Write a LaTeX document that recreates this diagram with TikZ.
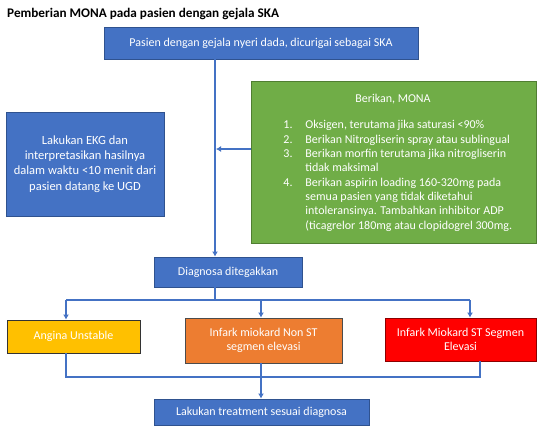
\documentclass[tikz,border=0pt]{standalone}
\usepackage{fontspec}
\setmainfont{Carlito}
\usetikzlibrary{arrows.meta}

\definecolor{boxblue}{HTML}{4472C4}
\definecolor{boxblueline}{HTML}{2F528F}
\definecolor{boxgreen}{HTML}{70AD47}
\definecolor{boxgreenline}{HTML}{507E32}
\definecolor{boxorange}{HTML}{ED7D31}
\definecolor{boxyellow}{HTML}{FFC000}
\definecolor{boxred}{HTML}{FF0000}

\begin{document}
\begin{tikzpicture}[
        x=1pt, y=-1pt,
        box/.style={rectangle, draw=boxblueline, fill=boxblue, line width=0.9pt, text=white, align=center, inner sep=0pt, font=\fontsize{12}{14.6}\selectfont},
        link/.style={draw=boxblue, line width=1.3pt},
        arrow/.style={link, -{Latex[length=5pt, width=6pt]}},
    ]
        \useasboundingbox (0,0) rectangle (543,432);
        \node[anchor=west, inner sep=0pt, font=\bfseries\fontsize{13.2}{16}\selectfont] (title) at (7,14) {Pemberian MONA pada pasien dengan gejala SKA};

        \node[box, minimum width=314pt, minimum height=32pt] (pasien) at (261,43) {Pasien dengan gejala nyeri dada, dicurigai sebagai SKA};
        \node[box, minimum width=158pt, minimum height=104pt, font=\fontsize{12.5}{15.3}\selectfont] (ekg) at (85,164) {Lakukan EKG dan\\interpretasikan hasilnya\\dalam waktu <10 menit dari\\pasien datang ke UGD};
        \node[box, fill=boxgreen, draw=boxgreenline, minimum width=285pt, minimum height=162pt] (mona) at (393.5,162) {};
        \node[box, draw=none, fill=none] (monatitle) at (393,99) {Berikan, MONA};
        \node[box, draw=none, fill=none, anchor=north west, align=left, font=\fontsize{12}{14.3}\selectfont] (monalist) at (283,118.5) {%
            \begin{tabular}{@{}p{22pt}@{}l@{}}
            1. & Oksigen, terutama jika saturasi <90\% \\
            2. & Berikan Nitrogliserin spray atau sublingual \\
            3. & Berikan morfin terutama jika nitrogliserin \\
               & tidak maksimal \\
            4. & Berikan aspirin loading 160-320mg pada \\
               & semua pasien yang tidak diketahui \\
               & intoleransinya. Tambahkan inhibitor ADP \\
               & (ticagrelor 180mg atau clopidogrel 300mg.
            \end{tabular}};

        \node[box, minimum width=148pt, minimum height=30pt] (diagnosa) at (228,272) {Diagnosa ditegakkan};
        \node[box, fill=boxyellow, draw=black!80, minimum width=133pt, minimum height=33pt] (angina) at (73.5,336.5) {Angina Unstable};
        \node[box, fill=boxorange, draw=black!70, minimum width=157pt, minimum height=45pt] (nstemi) at (263.5,340.5) {Infark miokard Non ST\\segmen elevasi};
        \node[box, fill=boxred, draw=red!55!black, minimum width=151pt, minimum height=43pt] (stemi) at (460.5,339.5) {Infark Miokard ST Segmen\\Elevasi};
        \node[box, minimum width=215pt, minimum height=26pt] (treatment) at (261.5,412) {Lakukan treatment sesuai diagnosa};

        \coordinate (trunk) at (215,0);
        \coordinate (join) at (216,149);
        \coordinate (busa) at (66,300);
        \coordinate (busn) at (261,300);
        \coordinate (buss) at (470,300);
        \coordinate (mergea) at (66,377);
        \coordinate (merges) at (480,377);

        \draw[arrow] (pasien.south -| trunk) -- (diagnosa.north -| trunk);
        \draw[arrow] (mona.west |- join) -- (join);
        \draw[link] (diagnosa.south -| trunk) -- (trunk |- busa);
        \draw[link] (busa) -- (buss);
        \draw[arrow] (busa) -- (angina.north -| busa);
        \draw[arrow] (busn) -- (nstemi.north -| busn);
        \draw[arrow] (buss) -- (stemi.north -| buss);
        \draw[link] (angina.south -| mergea) -- (mergea) -- (merges) -- (stemi.south -| merges);
        \draw[arrow] (nstemi.south -| busn) -- (treatment.north -| busn);
    \end{tikzpicture}
\end{document}
